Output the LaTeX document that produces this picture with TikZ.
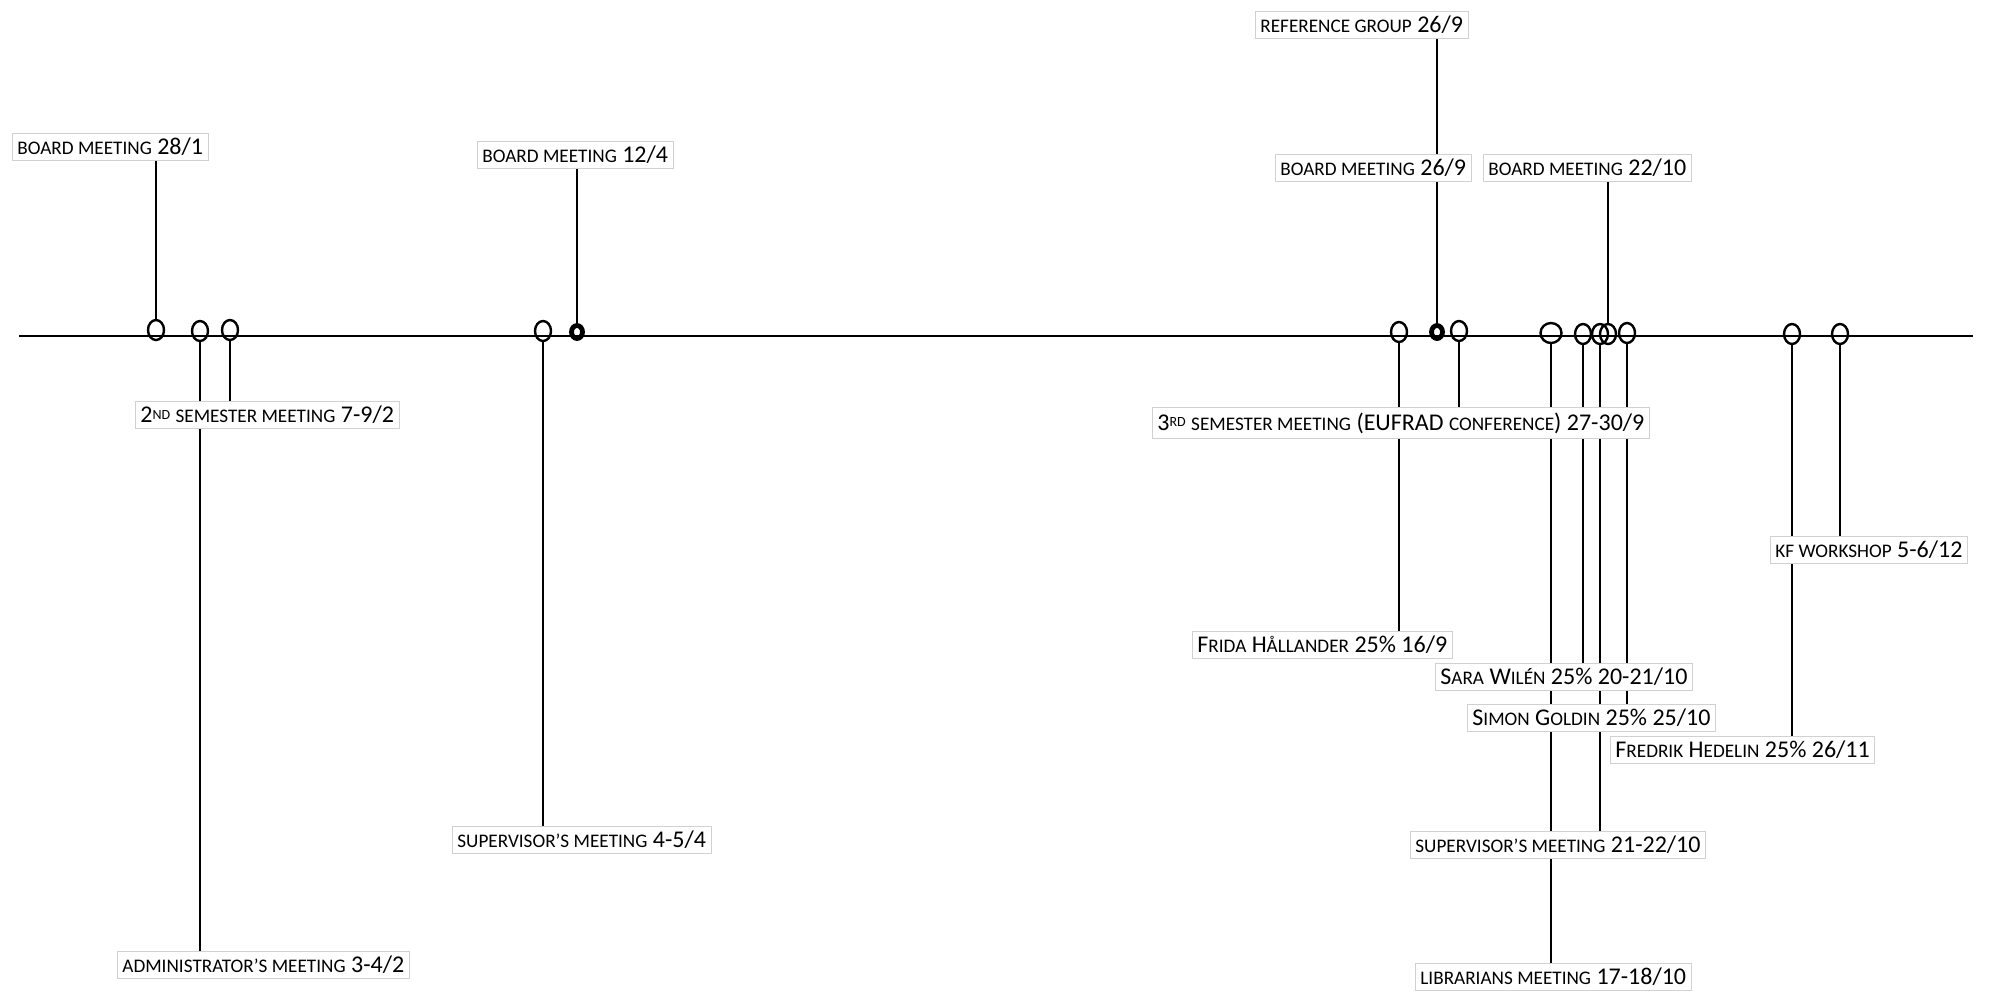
\documentclass[tikz,border=0pt]{standalone}
\usepackage{fontspec}
\setmainfont{Carlito}
\usetikzlibrary{shapes.geometric,backgrounds}

\newcommand\smc[1]{{\fontsize{9.6}{10}\selectfont #1}}
\newcommand\upsm[1]{{\fontsize{7}{7}\selectfont\raisebox{.55ex}{#1}}}

\begin{document}
\begin{tikzpicture}[
  x=0.5pt, y=-0.5pt,
  tag/.style={draw=black!18, fill=white, inner sep=2.5pt, anchor=west, font=\fontsize{12}{13}\selectfont},
  ring/.style={ellipse, draw, line width=1.2pt, minimum width=8pt, minimum height=10pt, inner sep=0pt},
  blot/.style={ring, line width=2.4pt, minimum width=5.5pt, minimum height=6.5pt},
  stem/.style={line width=1.4pt}
]
  \useasboundingbox (0,0) rectangle (1989,993);

  % Timeline ends
  \coordinate (tlstart) at (19,336);
  \coordinate (tlend) at (1973,336);

  % Labels
  \node[tag] (b1) at (12,147) {\smc{BOARD MEETING} 28/1};
  \node[tag] (sem2) at (135,415) {2\upsm{ND} \smc{SEMESTER MEETING} 7-9/2};
  \node[tag] (adm) at (117,965) {\smc{ADMINISTRATOR’S MEETING} 3-4/2};
  \node[tag] (b2) at (477,155) {\smc{BOARD MEETING} 12/4};
  \node[tag] (sup1) at (452,840) {\smc{SUPERVISOR’S MEETING} 4-5/4};
  \node[tag] (ref) at (1255,25) {\smc{REFERENCE GROUP} 26/9};
  \node[tag] (b3) at (1275,168) {\smc{BOARD MEETING} 26/9};
  \node[tag] (b4) at (1483,168) {\smc{BOARD MEETING} 22/10};
  \node[tag] (sem3) at (1152,423) {3\upsm{RD} \smc{SEMESTER MEETING} (EUFRAD \smc{CONFERENCE}) 27-30/9};
  \node[tag] (frida) at (1192,645) {F\smc{RIDA} H\smc{ÅLLANDER} 25\% 16/9};
  \node[tag] (sara) at (1435,677) {S\smc{ARA} W\smc{ILÉN} 25\% 20-21/10};
  \node[tag] (simon) at (1467,718) {S\smc{IMON} G\smc{OLDIN} 25\% 25/10};
  \node[tag] (fred) at (1610,750) {F\smc{REDRIK} H\smc{EDELIN} 25\% 26/11};
  \node[tag] (kf) at (1770,550) {\smc{KF WORKSHOP} 5-6/12};
  \node[tag] (sup2) at (1410,845) {\smc{SUPERVISOR’S MEETING} 21-22/10};
  \node[tag] (lib) at (1415,977) {\smc{LIBRARIANS MEETING} 17-18/10};

  % Rings on the timeline
  \node[ring] (e1) at (156,330) {};
  \node[ring] (e2) at (200,331) {};
  \node[ring] (e3) at (230,330) {};
  \node[ring] (e4) at (543,331) {};
  \node[blot] (e5) at (577,332) {};
  \node[ring] (e6) at (1399,332) {};
  \node[blot] (e7) at (1437,332) {};
  \node[ring] (e8) at (1459,331) {};
  \node[ring, minimum width=10.5pt] (e9) at (1551,333) {};
  \node[ring] (e10) at (1583,334) {};
  \node[ring] (e11) at (1600,334) {};
  \node[ring] (e12) at (1608,334) {};
  \node[ring] (e13) at (1627,333) {};
  \node[ring] (e14) at (1792,334) {};
  \node[ring] (e15) at (1840,334) {};

  % Timeline and stems behind the labels
  \begin{scope}[on background layer]
    \draw[line width=1pt] (tlstart) -- (tlend);
    \draw[stem] (e1.north) -- (e1.north |- b1.center);
    \draw[stem] (e2.south) -- (e2.south |- adm.center);
    \draw[stem] (e3.south) -- (e3.south |- sem2.center);
    \draw[stem] (e4.south) -- (e4.south |- sup1.center);
    \draw[stem] (e5.north) -- (e5.north |- b2.center);
    \draw[stem] (e6.south) -- (e6.south |- frida.center);
    \draw[stem] (e7.north) -- (e7.north |- ref.center);
    \draw[stem] (e8.south) -- (e8.south |- sem3.center);
    \draw[stem] (e9.south) -- (e9.south |- lib.center);
    \draw[stem] (e10.south) -- (e10.south |- sara.center);
    \draw[stem] (e11.south) -- (e11.south |- sup2.center);
    \draw[stem] (e12.north) -- (e12.north |- b4.center);
    \draw[stem] (e13.south) -- (e13.south |- simon.center);
    \draw[stem] (e14.south) -- (e14.south |- fred.center);
    \draw[stem] (e15.south) -- (e15.south |- kf.center);
  \end{scope}

\end{tikzpicture}
\end{document}
